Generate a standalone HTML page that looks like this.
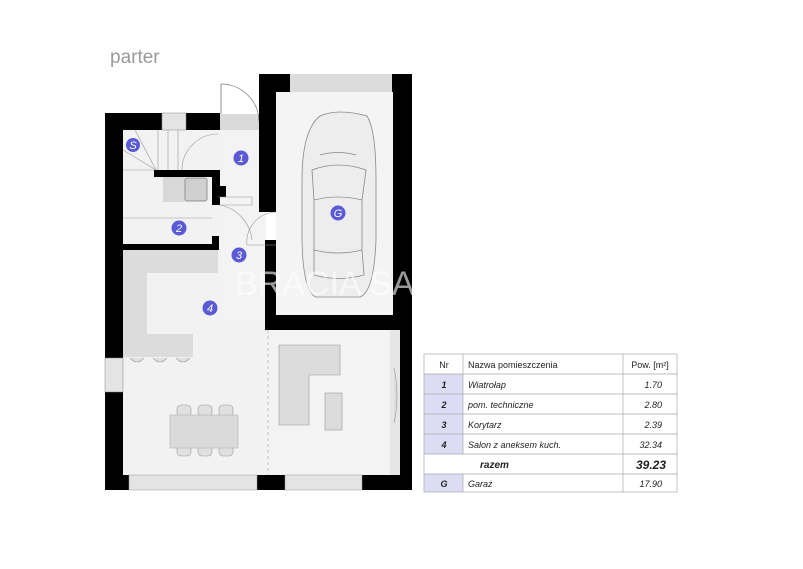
<!DOCTYPE html>
<html><head><meta charset="utf-8"><style>
html,body{margin:0;padding:0;background:#fff;width:803px;height:569px;overflow:hidden}
svg{display:block}
text{font-family:"Liberation Sans",sans-serif}
</style></head><body>
<svg width="803" height="569" viewBox="0 0 803 569" xmlns="http://www.w3.org/2000/svg">
<text x="110" y="63" font-size="19" fill="#9a9a9a">parter</text>

<!-- floors -->
<rect x="123" y="130" width="97" height="345" fill="#f2f2f2"/>
<rect x="123" y="250" width="145" height="225" fill="#f2f2f2"/>
<rect x="218" y="125" width="48" height="200" fill="#f3f3f3"/>
<rect x="266" y="330" width="134" height="145" fill="#f3f3f3"/>
<rect x="276" y="92" width="117" height="223" fill="#f4f4f4"/>
<!-- garage door -->
<rect x="290" y="74" width="102" height="18" fill="#dcdcdc"/>
<!-- vestibule entry -->
<rect x="220" y="114" width="39" height="16" fill="#dadada"/>
<path d="M221 84 A38 38 0 0 1 259 122" fill="none" stroke="#777" stroke-width="0.7"/>
<line x1="221" y1="84" x2="221" y2="114" stroke="#777" stroke-width="0.8"/>

<!-- walls -->
<g fill="#000">
<rect x="105" y="113" width="57" height="17"/>
<rect x="186" y="113" width="34" height="17"/>
<rect x="105" y="113" width="18" height="245"/>
<rect x="105" y="392" width="18" height="98"/>
<rect x="259" y="74" width="31" height="18"/>
<rect x="392" y="74" width="20" height="18"/>
<rect x="259" y="74" width="17" height="138"/>
<rect x="265" y="240" width="11" height="90"/>
<rect x="393" y="74" width="19" height="256"/>
<rect x="265" y="315" width="147" height="15"/>
<rect x="400" y="330" width="12" height="160"/>
<rect x="105" y="475" width="24" height="15"/>
<rect x="257" y="475" width="28" height="15"/>
<rect x="362" y="475" width="50" height="15"/>
<rect x="154" y="170" width="66" height="7"/>
<rect x="212" y="170" width="8" height="35"/>
<rect x="212" y="186" width="14" height="11"/>
<rect x="123" y="244" width="96" height="6"/>
<rect x="212" y="236" width="7" height="14"/>
</g>
<!-- windows -->
<rect x="162" y="113" width="24" height="17" fill="#e4e4e4" stroke="#888" stroke-width="0.5"/>
<rect x="105" y="358" width="18" height="34" fill="#e4e4e4" stroke="#888" stroke-width="0.5"/>
<rect x="129" y="475" width="128" height="15" fill="#e4e4e4" stroke="#999" stroke-width="0.5"/>
<rect x="285" y="475" width="77" height="15" fill="#e4e4e4" stroke="#999" stroke-width="0.5"/>
<rect x="390" y="330" width="10" height="145" fill="#e6e6e6"/>

<!-- stairs -->
<g stroke="#999" stroke-width="0.6" fill="none">
<line x1="123" y1="170" x2="154" y2="170"/>
<line x1="135" y1="130" x2="156" y2="170"/>
<line x1="123" y1="150" x2="156" y2="170"/>
<line x1="158" y1="130" x2="158" y2="170"/>
<line x1="168" y1="130" x2="168" y2="170"/>
<line x1="178" y1="130" x2="178" y2="170"/>
<path d="M182 170 A36 36 0 0 1 218 134"/>
<path d="M218 197 L252 197 L252 205 L218 205"/>
<path d="M220 205 A40 40 0 0 1 252 240"/>
<path d="M247 245 A30 30 0 0 1 276 212"/>
<line x1="247" y1="245" x2="276" y2="245"/>
<line x1="123" y1="218" x2="212" y2="218"/>
<line x1="268" y1="330" x2="268" y2="475" stroke-dasharray="3 3"/>
</g>
<rect x="163" y="177" width="22" height="25" fill="#d8d8d8"/>
<rect x="185" y="178" width="22" height="23" rx="2" fill="#d0d0d0" stroke="#777" stroke-width="0.7"/>

<!-- kitchen -->
<path d="M123 250 H218 V273 H147 V334 H193 V357 H123 Z" fill="#dcdcdc"/>
<g fill="#e0e0e0" stroke="#999" stroke-width="0.6">
<path d="M130 358 q7 8 14 0"/><path d="M153 358 q7 8 14 0"/><path d="M176 358 q7 8 14 0"/>
<rect x="177" y="405" width="14" height="12" rx="4"/><rect x="198" y="405" width="14" height="12" rx="4"/><rect x="219" y="405" width="14" height="12" rx="4"/>
<rect x="177" y="444" width="14" height="12" rx="4"/><rect x="198" y="444" width="14" height="12" rx="4"/><rect x="219" y="444" width="14" height="12" rx="4"/>
</g>
<rect x="170" y="415" width="68" height="33" fill="#dadada" stroke="#aaa" stroke-width="0.5"/>
<!-- sofa -->
<path d="M279 345 H340 V375 H309 V425 H279 Z" fill="#dcdcdc" stroke="#999" stroke-width="0.6"/>
<rect x="325" y="393" width="17" height="37" fill="#dcdcdc" stroke="#999" stroke-width="0.6"/>
<path d="M394 368 q6 27 0 55" fill="#ddd" stroke="#999" stroke-width="0.6"/>

<!-- car -->
<g fill="none" stroke="#888" stroke-width="0.8">
<path d="M320 116 Q338 108 367 116 Q376 130 376 180 L376 240 Q374 292 360 297 L316 297 Q303 292 302 240 L302 180 Q302 130 320 116 Z" fill="#ededed"/>
<path d="M312 170 Q338 160 366 170 L362 200 Q338 194 314 200 Z"/>
<path d="M314 250 Q338 256 362 250 L364 275 Q338 282 314 275 Z"/>
<line x1="314" y1="200" x2="314" y2="250"/><line x1="362" y1="200" x2="362" y2="250"/>
<path d="M320 155 Q338 150 356 155"/>
</g>

<text x="235" y="295" font-size="34" fill="#fff" opacity="0.6">BRACIA SA</text>

<!-- labels -->
<g fill="#5a5ad6">
<circle cx="133" cy="145" r="7"/><circle cx="241" cy="158" r="7.5"/><circle cx="338" cy="213" r="7.5"/>
<circle cx="179" cy="228" r="7.5"/><circle cx="239" cy="255" r="7.5"/><circle cx="210" cy="308" r="7.5"/>
</g>
<g fill="#fff" font-size="11" font-style="italic" text-anchor="middle">
<text x="133" y="149">S</text><text x="241" y="162">1</text><text x="338" y="217">G</text>
<text x="179" y="232">2</text><text x="239" y="259">3</text><text x="210" y="312">4</text>
</g>

<!-- table -->
<g font-size="9" fill="#222">
<rect x="424" y="374" width="39" height="80" fill="#dcdcf4"/>
<rect x="424" y="474" width="39" height="18" fill="#dcdcf4"/>
<g stroke="#aaa" stroke-width="0.7" fill="none">
<rect x="424" y="354" width="253" height="138"/>
<line x1="424" y1="374" x2="677" y2="374"/><line x1="424" y1="394" x2="677" y2="394"/>
<line x1="424" y1="414" x2="677" y2="414"/><line x1="424" y1="434" x2="677" y2="434"/>
<line x1="424" y1="454" x2="677" y2="454"/><line x1="424" y1="474" x2="677" y2="474"/>
<line x1="463" y1="354" x2="463" y2="454"/><line x1="463" y1="474" x2="463" y2="492"/>
<line x1="623" y1="354" x2="623" y2="492"/>
</g>
<text x="444" y="368" text-anchor="middle">Nr</text>
<text x="468" y="368">Nazwa pomieszczenia</text>
<text x="650" y="368" text-anchor="middle">Pow. [m²]</text>
<g font-style="italic">
<text x="444" y="388" text-anchor="middle" font-weight="bold">1</text><text x="468" y="388">Wiatrołap</text><text x="662" y="388" text-anchor="end">1.70</text>
<text x="444" y="408" text-anchor="middle" font-weight="bold">2</text><text x="468" y="408">pom. techniczne</text><text x="662" y="408" text-anchor="end">2.80</text>
<text x="444" y="428" text-anchor="middle" font-weight="bold">3</text><text x="468" y="428">Korytarz</text><text x="662" y="428" text-anchor="end">2.39</text>
<text x="444" y="448" text-anchor="middle" font-weight="bold">4</text><text x="468" y="448">Salon z aneksem kuch.</text><text x="662" y="448" text-anchor="end">32.34</text>
<text x="480" y="468" font-weight="bold" font-size="10">razem</text><text x="666" y="469" text-anchor="end" font-weight="bold" font-size="12">39.23</text>
<text x="444" y="487" text-anchor="middle" font-weight="bold">G</text><text x="468" y="487">Garaż</text><text x="662" y="487" text-anchor="end">17.90</text>
</g>
</g>
</svg>
</body></html>
